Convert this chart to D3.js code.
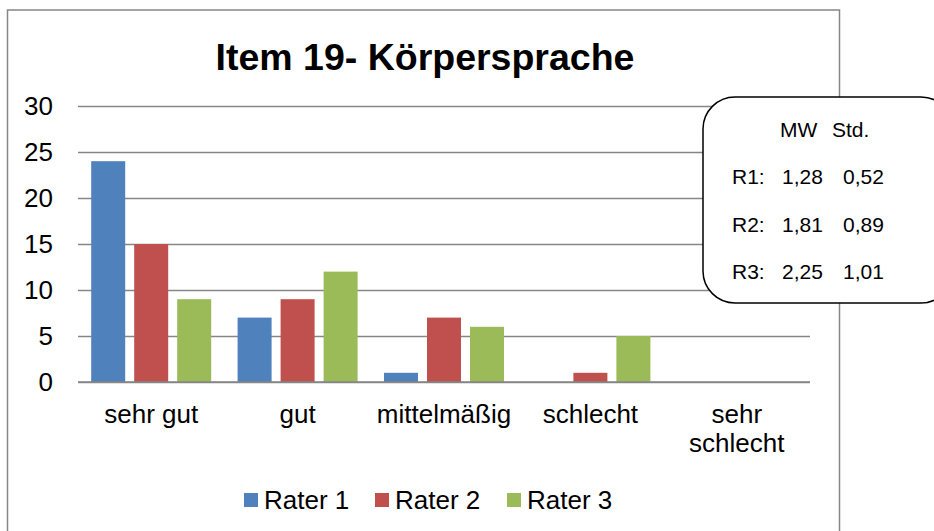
<!DOCTYPE html>
<html lang="de">
<head>
<meta charset="utf-8">
<title>Item 19- Körpersprache</title>
<script src="https://d3js.org/d3.v7.min.js"></script>
<style>
  body { margin: 0; background: #fff; }
  text { font-family: "Liberation Sans", Arial, sans-serif; fill: #000; }
  .y.axis .domain { display: none; }
  .y.axis line { stroke: #868686; stroke-width: 1.3; }
</style>
</head>
<body>
<script>
// data
var categories = ['sehr gut', 'gut', 'mittelmäßig', 'schlecht', 'sehr schlecht'];
var raters = ['Rater 1', 'Rater 2', 'Rater 3'];
var rater1 = [24, 7, 1, 0, 0];
var rater2 = [15, 9, 7, 1, 0];
var rater3 = [9, 12, 6, 5, 0];
var yTicks = [0, 5, 10, 15, 20, 25, 30];
var statsHead = ['MW', 'Std.'];
var statsRows = [['R1:', '1,28', '0,52'], ['R2:', '1,81', '0,89'], ['R3:', '2,25', '1,01']];

var colors = ['#4F81BD', '#C0504D', '#9BBB59'];
var seriesVals = [rater1, rater2, rater3];

var w = 934, h = 531;
var svg = d3.select('body').append('svg').attr('width', w).attr('height', h);

// chart frame
svg.append('rect')
  .attr('x', 7.5).attr('y', 10)
  .attr('width', 832).attr('height', 540)
  .attr('fill', '#fff').attr('stroke', '#868686').attr('stroke-width', 1.5);

var plot = {left: 78, right: 810, top: 106, bottom: 382};

var x0 = d3.scaleBand().domain(categories).range([plot.left, plot.right]);
var x1 = d3.scaleBand().domain(raters).range([0, 120]).paddingInner(9 / 43);
var y = d3.scaleLinear().domain([0, 30]).range([plot.bottom, plot.top]);
var off = (x0.bandwidth() - 120) / 2;

// grid + y labels
var yAxis = d3.axisLeft(y).tickValues(yTicks).tickSize(-(plot.right - plot.left)).tickPadding(25);
svg.append('g')
  .attr('class', 'y axis')
  .attr('transform', 'translate(' + plot.left + ',0)')
  .call(yAxis)
  .selectAll('text')
  .style('font-size', '26px')
  .attr('fill', '#000');

// bars
raters.forEach(function(r, i) {
  svg.append('g').selectAll('rect')
    .data(seriesVals[i])
    .enter().append('rect')
    .attr('x', function(d, j) { return x0(categories[j]) + off + x1(r); })
    .attr('y', function(d) { return y(d); })
    .attr('width', x1.bandwidth())
    .attr('height', function(d) { return y(0) - y(d); })
    .attr('fill', colors[i]);
});

// x axis line
svg.append('line')
  .attr('x1', plot.left).attr('x2', plot.right)
  .attr('y1', y(0)).attr('y2', y(0))
  .attr('stroke', '#868686').attr('stroke-width', 1.5);

// category labels
svg.append('g').selectAll('text')
  .data(categories)
  .enter().append('text')
  .attr('text-anchor', 'middle')
  .style('font-size', '26px')
  .attr('transform', function(d) { return 'translate(' + (x0(d) + x0.bandwidth() / 2) + ',423)'; })
  .each(function(d) {
    var parts = d === 'sehr schlecht' ? ['sehr', 'schlecht'] : [d];
    var t = d3.select(this);
    parts.forEach(function(p, k) {
      t.append('tspan').attr('x', 0).attr('y', k * 29).text(p);
    });
  });

// title
svg.append('text')
  .attr('x', 425).attr('y', 70)
  .attr('text-anchor', 'middle')
  .style('font-size', '37.5px').style('font-weight', 'bold')
  .text('Item 19- Körpersprache');

// legend
var legendX = [244, 375, 507];
var legend = svg.append('g').selectAll('g')
  .data(raters)
  .enter().append('g')
  .attr('transform', function(d, i) { return 'translate(' + legendX[i] + ',0)'; });
legend.append('rect')
  .attr('y', 493).attr('width', 14).attr('height', 14)
  .attr('fill', function(d, i) { return colors[i]; });
legend.append('text')
  .attr('x', 20).attr('y', 509)
  .style('font-size', '26px')
  .text(function(d) { return d; });

// stats box
svg.append('rect')
  .attr('x', 703).attr('y', 97)
  .attr('width', 250).attr('height', 206)
  .attr('rx', 32).attr('ry', 32)
  .attr('fill', '#fff').attr('stroke', '#000').attr('stroke-width', 1.5);

var stats = svg.append('g').style('font-size', '21px');
stats.selectAll('.head')
  .data(statsHead)
  .enter().append('text')
  .attr('x', function(d, i) { return [780, 832][i]; })
  .attr('y', 137)
  .text(function(d) { return d; });
statsRows.forEach(function(row, i) {
  stats.selectAll('.r' + i)
    .data(row)
    .enter().append('text')
    .attr('x', function(d, k) { return [732, 782, 843][k]; })
    .attr('y', 184 + i * 47.5)
    .text(function(d) { return d; });
});
</script>
</body>
</html>
